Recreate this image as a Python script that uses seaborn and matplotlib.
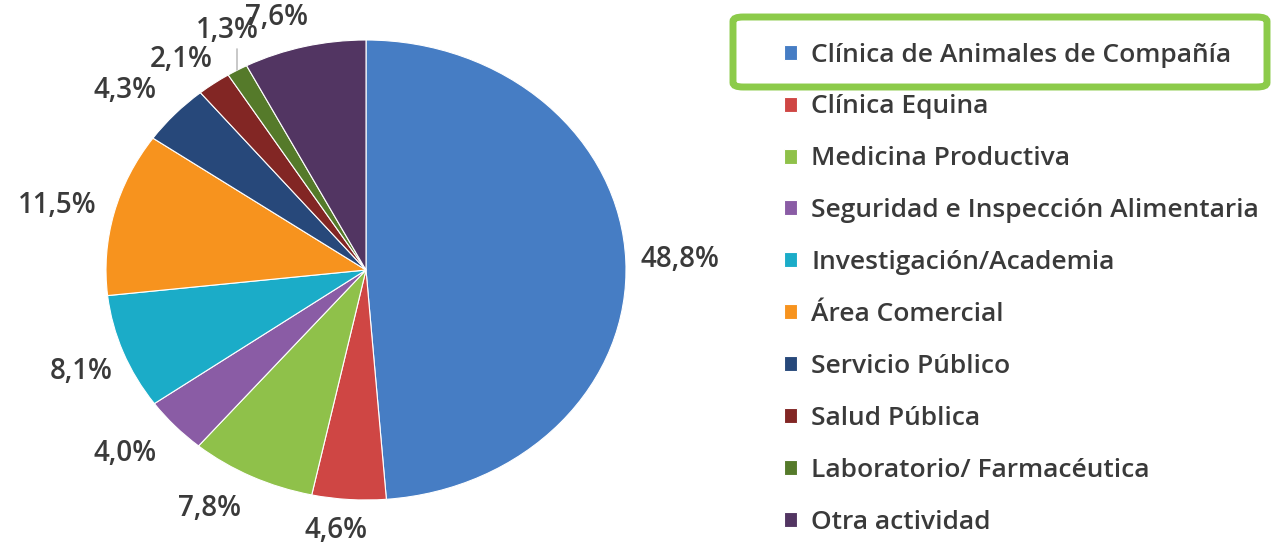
import matplotlib
matplotlib.use('Agg')
import matplotlib.pyplot as plt
from matplotlib.patches import FancyBboxPatch
import seaborn as sns
import numpy as np

# data
categories = ['Clínica de Animales de Compañía', 'Clínica Equina', 'Medicina Productiva',
              'Seguridad e Inspección Alimentaria', 'Investigación/Academia', 'Área Comercial',
              'Servicio Público', 'Salud Pública', 'Laboratorio/ Farmacéutica', 'Otra actividad']
shares = [48.8, 4.6, 7.8, 4.0, 8.1, 11.5, 4.3, 2.1, 1.3, 7.6]
colors = ['#467DC4', '#CF4644', '#8FC14A', '#8A5CA5', '#1BACC8',
          '#F7931E', '#27487A', '#822624', '#557A2A', '#523562']
# per-label distance from centre (in radii), to keep the small ones apart
label_dist = [1.21, 1.14, 1.2, 1.22, 1.18, 1.22, 1.21, 1.16, 1.17, 1.15]
label_shift = [0, -2, -4, -2, 1, 1, 2.6, 2, -2.5, 3.8]  # degrees

sns.set_theme(style='white')
plt.rcParams['font.family'] = ['Open Sans', 'DejaVu Sans']
text_color = '#3A3A3A'

fig = plt.figure(figsize=(12.74, 5.47), dpi=100)
W, H = 1274, 547
ax = fig.add_axes([106 / W, (H - 500) / H, 520 / W, 460 / H])

palette = sns.color_palette(colors)
wedges, _ = ax.pie(shares, colors=palette, startangle=90, counterclock=False,
                   wedgeprops=dict(edgecolor='white', linewidth=0.8))
ax.set_aspect('auto')
ax.set_xlim(-1, 1)
ax.set_ylim(-1, 1)
ax.axis('off')

# percent labels outside the slices
for w, val, d, sh in zip(wedges, shares, label_dist, label_shift):
    ang = np.deg2rad((w.theta1 + w.theta2) / 2 + sh)
    ax.text(d * np.cos(ang), d * np.sin(ang), f'{val:.1f}%'.replace('.', ','),
            ha='center', va='center', fontsize=20, fontweight='semibold',
            color=text_color, clip_on=False)

# leader line for the tiny slice
w = wedges[8]
ang = np.deg2rad((w.theta1 + w.theta2) / 2)
ax.plot([np.cos(ang), np.cos(ang)], [np.sin(ang), np.sin(ang) + 0.09],
        color='#BFBFBF', lw=1.2, clip_on=False)

leg = fig.legend(wedges, categories, loc='upper left', bbox_to_anchor=(773 / W, 1 - 32 / H),
                 frameon=False, prop=dict(size=19, weight='semibold'),
                 handlelength=0.5, handleheight=0.5,
                 handletextpad=0.55, labelspacing=1.02, borderaxespad=0)
for t in leg.get_texts():
    t.set_color(text_color)

# green highlight around the first legend entry
box = FancyBboxPatch((733 / W, 1 - 87 / H), 534 / W, 70 / H,
                     boxstyle='round,pad=0,rounding_size=0.008',
                     transform=fig.transFigure, facecolor='none',
                     edgecolor='#8CCB4A', linewidth=5, zorder=5)
fig.patches.append(box)

fig.savefig('out.png', dpi=100)
